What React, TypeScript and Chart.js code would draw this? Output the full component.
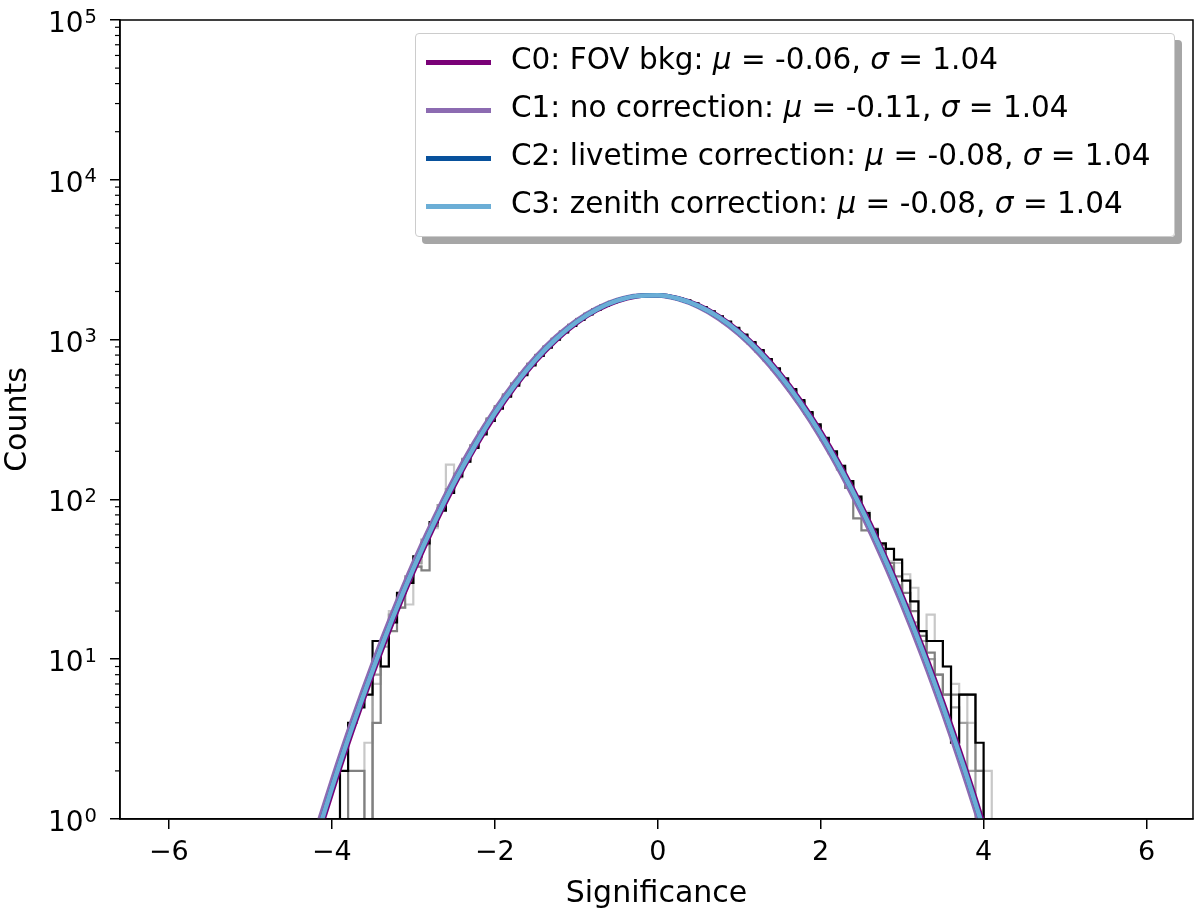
import { useEffect, useRef } from 'react'
import Chart from 'chart.js/auto'

// fitted Gaussians, every 0.25 in significance
const fitX = [-4.25, -4, -3.75, -3.5, -3.25, -3, -2.75, -2.5, -2.25, -2, -1.75, -1.5, -1.25, -1, -0.75, -0.5, -0.25, 0, 0.25, 0.5, 0.75, 1, 1.25, 1.5, 1.75, 2, 2.25, 2.5, 2.75, 3, 3.25, 3.5, 3.75, 4, 4.25]
const fitC0 = [0.57, 1.45, 3.51, 8.0, 17.2, 34.9, 67.0, 121, 207, 333, 507, 728, 987, 1263, 1525, 1737, 1868, 1897, 1817, 1644, 1403, 1130, 859, 617, 418, 267, 161, 91.8, 49.4, 25.1, 12.0, 5.43, 2.32, 0.93, 0.35]
const fitC1 = [0.69, 1.74, 4.16, 9.37, 19.9, 40.0, 75.8, 135.5, 229, 364, 548, 778, 1042, 1317, 1572, 1771, 1883, 1889, 1790, 1600, 1350, 1075, 808, 573, 384, 243, 145, 81.5, 43.3, 21.7, 10.3, 4.6, 1.94, 0.77, 0.29]
const fitC2 = [0.61, 1.56, 3.76, 8.5, 18.3, 36.9, 70.4, 126.8, 215, 346, 523, 748, 1009, 1285, 1544, 1751, 1875, 1894, 1807, 1626, 1382, 1108, 839, 599, 404, 257, 154, 87.6, 46.9, 23.7, 11.3, 5.08, 2.16, 0.86, 0.33]
const fitC3 = fitC2

// significance histograms, bins 0.1 wide starting at -4.4
const binStart = -4.4
const binWidth = 0.1
const histBlack = [
  0, 0, 0, 0, 0, 2, 4, 5, 6, 13, 9, 17, 26, 30, 44, 53, 72, 85, 110, 140,
  172, 210, 255, 310, 370, 440, 515, 600, 690, 790, 890, 1000, 1110, 1220, 1330, 1440, 1540, 1630, 1715, 1780,
  1840, 1880, 1900, 1905, 1895, 1865, 1820, 1760, 1685, 1600, 1505, 1400, 1295, 1185, 1075, 965, 860, 755, 660, 572,
  490, 418, 352, 295, 243, 200, 162, 130, 104, 82, 65, 53, 49, 42, 31, 23, 15, 13, 13, 9,
  3, 6, 6, 3, 0, 0,
]
const histGray = [
  1, 0, 0, 0, 0, 0, 2, 2, 0, 4, 9, 15, 21, 30, 38, 36, 68, 88, 110, 138,
  178, 218, 258, 320, 382, 452, 530, 612, 705, 800, 905, 1012, 1125, 1235, 1345, 1450, 1550, 1640, 1720, 1790,
  1845, 1885, 1905, 1900, 1890, 1860, 1810, 1750, 1672, 1585, 1490, 1385, 1280, 1170, 1060, 950, 845, 745, 650, 560,
  482, 410, 345, 288, 238, 195, 154, 118, 76, 64, 64, 52, 40, 33, 26, 20, 14, 11, 8, 6,
  6, 6, 6, 2, 0, 0,
]
const histDarkGray = [
  0, 0, 0, 0, 0, 0, 0, 0, 0, 8, 12, 19, 25, 33, 40, 56, 70, 92, 116, 145,
  172, 212, 265, 318, 375, 445, 525, 605, 702, 795, 900, 1005, 1115, 1228, 1338, 1442, 1545, 1632, 1718, 1786,
  1838, 1878, 1898, 1902, 1888, 1858, 1812, 1748, 1672, 1586, 1490, 1388, 1280, 1170, 1060, 950, 845, 742, 650, 560,
  480, 408, 344, 287, 236, 194, 158, 127, 101, 80, 63, 49, 38, 29, 22, 17, 13, 10, 8, 6,
  5, 4, 2, 0, 0, 0,
]
const histLightGray = [
  0, 0, 0, 0, 0, 0, 0, 0, 3, 7, 13, 20, 21, 22, 38, 52, 66, 92, 165, 140,
  180, 218, 265, 322, 384, 455, 532, 612, 708, 805, 910, 1015, 1125, 1238, 1350, 1455, 1552, 1642, 1722, 1792,
  1845, 1885, 1905, 1905, 1892, 1862, 1815, 1752, 1675, 1590, 1495, 1390, 1285, 1175, 1065, 955, 850, 748, 652, 565,
  485, 412, 348, 290, 240, 198, 162, 130, 104, 84, 66, 52, 41, 40, 34, 28, 12, 19, 13, 9,
  7, 6, 4, 2, 2, 0,
]

const xTicks = [-6, -4, -2, 0, 2, 4, 6]
const yTicks = [1, 10, 100, 1000, 10000, 100000]

const legendRows = [
  { name: 'C0: FOV bkg', mu: '-0.06', sigma: '1.04', color: '#7a0177' },
  { name: 'C1: no correction', mu: '-0.11', sigma: '1.04', color: '#8c6bb1' },
  { name: 'C2: livetime correction', mu: '-0.08', sigma: '1.04', color: '#08519c' },
  { name: 'C3: zenith correction', mu: '-0.08', sigma: '1.04', color: '#6baed6' },
]

const FONT = "'DejaVu Sans', 'Noto Sans', sans-serif"
// empty bins go below the 10^0 floor so the steps drop out of the axes, like matplotlib's clipping
const EMPTY_BIN = 0.1

function steps(counts: number[]) {
  const pts = counts.map((c, i) => ({ x: +(binStart + i * binWidth).toFixed(2), y: c > 0 ? c : EMPTY_BIN }))
  pts.push({ x: +(binStart + counts.length * binWidth).toFixed(2), y: EMPTY_BIN })
  return pts
}

function curve(values: number[]) {
  return fitX.map((x, i) => ({ x, y: values[i] }))
}

const framePlugin = {
  id: 'frame',
  afterDraw(chart: any) {
    const { ctx, chartArea: a } = chart
    const y = chart.scales.y
    ctx.save()
    ctx.strokeStyle = '#000'
    ctx.lineWidth = 1.5
    ctx.strokeRect(a.left, a.top, a.right - a.left, a.bottom - a.top)
    // minor log ticks
    ctx.lineWidth = 1.2
    for (let e = 0; e < 5; e++) {
      for (let m = 2; m < 10; m++) {
        const py = y.getPixelForValue(m * Math.pow(10, e))
        ctx.beginPath()
        ctx.moveTo(a.left - 5, py)
        ctx.lineTo(a.left, py)
        ctx.stroke()
      }
    }
    // y tick labels as 10 with a raised exponent
    ctx.fillStyle = '#000'
    ctx.textAlign = 'left'
    ctx.textBaseline = 'alphabetic'
    yTicks.forEach((v) => {
      const py = y.getPixelForValue(v)
      const exp = String(Math.round(Math.log10(v)))
      ctx.font = `19.5px ${FONT}`
      const we = ctx.measureText(exp).width
      ctx.font = `28px ${FONT}`
      const wb = ctx.measureText('10').width
      const xEnd = a.left - 23
      ctx.fillText('10', xEnd - we - 1 - wb, py + 12)
      ctx.font = `19.5px ${FONT}`
      ctx.fillText(exp, xEnd - we, py + 2.5)
    })
    ctx.restore()
  },
}

export default function App() {
  const canvasRef = useRef<HTMLCanvasElement>(null)
  const chartRef = useRef<Chart | null>(null)

  useEffect(() => {
    document.body.style.margin = '0'
    if (!canvasRef.current) return
    const ctx = canvasRef.current.getContext('2d')
    if (!ctx) return
    if (chartRef.current) chartRef.current.destroy()

    const histClip = { left: 0, top: 0, right: 0, bottom: -1 }
    const fitClip = { left: 0, top: 0, right: 0, bottom: 0 }
    const hist = (data: number[], color: string, order: number) => ({
      data: steps(data),
      borderColor: color,
      borderWidth: 2.2,
      pointRadius: 0,
      stepped: 'before' as const,
      fill: false,
      clip: histClip,
      order,
    })
    const fit = (data: number[], color: string, order: number) => ({
      data: curve(data),
      borderColor: color,
      borderWidth: 4.5,
      pointRadius: 0,
      tension: 0.4,
      cubicInterpolationMode: 'monotone' as const,
      fill: false,
      clip: fitClip,
      order,
    })

    chartRef.current = new Chart(ctx, {
      type: 'line',
      data: {
        datasets: [
          fit(fitC3, legendRows[3].color, 0),
          fit(fitC2, legendRows[2].color, 1),
          fit(fitC1, legendRows[1].color, 2),
          fit(fitC0, legendRows[0].color, 3),
          hist(histBlack, '#000000', 4),
          hist(histGray, '#808080', 5),
          hist(histDarkGray, '#a0a0a0', 6),
          hist(histLightGray, '#c8c8c8', 7),
        ] as any,
      },
      options: {
        animation: false,
        responsive: true,
        maintainAspectRatio: false,
        layout: { padding: { top: 20, right: 7, left: 0, bottom: 0 } },
        plugins: { legend: { display: false }, tooltip: { enabled: false } },
        scales: {
          x: {
            type: 'linear',
            min: -6.6,
            max: 6.57,
            afterBuildTicks: (s: any) => {
              s.ticks = xTicks.map((v) => ({ value: v }))
            },
            afterFit: (s: any) => {
              s.height = 97
            },
            grid: { drawOnChartArea: false, drawTicks: true, tickLength: 10, color: '#000', lineWidth: 1.5 },
            border: { display: true, color: '#000', width: 1.5 },
            ticks: {
              autoSkip: false,
              maxRotation: 0,
              padding: 8,
              color: '#000',
              font: { family: FONT, size: 27 },
              callback: (v: any) => (v < 0 ? '\u2212' + Math.abs(v) : String(v)),
            },
            title: {
              display: true,
              text: 'Significance',
              color: '#000',
              font: { family: FONT, size: 30 },
              padding: { top: 0, bottom: 4 },
            },
          },
          y: {
            type: 'logarithmic',
            min: 1,
            max: 100000,
            afterBuildTicks: (s: any) => {
              s.ticks = yTicks.map((v) => ({ value: v }))
            },
            afterFit: (s: any) => {
              s.width = 120
            },
            grid: { drawOnChartArea: false, drawTicks: true, tickLength: 10, color: '#000', lineWidth: 1.5 },
            border: { display: true, color: '#000', width: 1.5 },
            ticks: { display: false },
            title: {
              display: true,
              text: 'Counts',
              color: '#000',
              font: { family: FONT, size: 30 },
              padding: { top: 0, bottom: 0 },
            },
          },
        },
      },
      plugins: [framePlugin],
    })

    return () => {
      if (chartRef.current) {
        chartRef.current.destroy()
        chartRef.current = null
      }
    }
  }, [])

  return (
    <div style={{ position: 'relative', width: 1200, height: 916, background: '#fff' }}>
      <canvas ref={canvasRef} />
      <div
        style={{
          position: 'absolute',
          left: 415,
          top: 33,
          width: 760,
          height: 204,
          boxSizing: 'border-box',
          border: '1.5px solid #cccccc',
          borderRadius: 4,
          background: 'rgba(255,255,255,0.9)',
          boxShadow: '7px 7px 0 #a6a6a6',
          paddingTop: 1,
          fontFamily: FONT,
          fontSize: 29.5,
          color: '#000',
        }}
      >
        {legendRows.map((r) => (
          <div key={r.name} style={{ height: 48, display: 'flex', alignItems: 'center', whiteSpace: 'nowrap' }}>
            <span
              style={{
                display: 'inline-block',
                width: 65,
                height: 5,
                background: r.color,
                marginLeft: 10,
                marginRight: 20,
                position: 'relative',
                top: 3,
              }}
            />
            <span>
              {r.name}: <i>μ</i> = {r.mu}, <i>σ</i> = {r.sigma}
            </span>
          </div>
        ))}
      </div>
    </div>
  )
}
